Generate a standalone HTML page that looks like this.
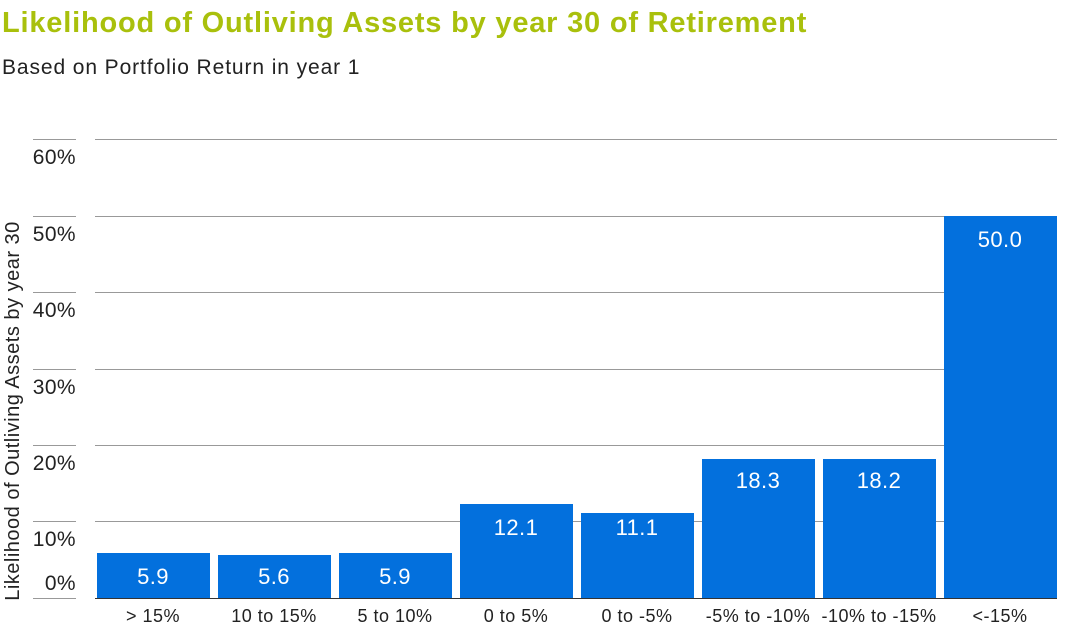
<!DOCTYPE html>
<html><head><meta charset="utf-8"><style>
html,body{margin:0;padding:0;background:#fff;}
svg{display:block;font-family:"Liberation Sans",sans-serif;}
</style></head><body>
<svg width="1069" height="635" viewBox="0 0 1069 635">
<text x="2" y="32" font-size="29" font-weight="bold" fill="#a9c00c" letter-spacing="0.8">Likelihood of Outliving Assets by year 30 of Retirement</text>
<text x="2" y="74" font-size="21" fill="#222" letter-spacing="0.9">Based on Portfolio Return in year 1</text>
<g stroke="#999" stroke-width="1">
<line x1="95" y1="139.5" x2="1057" y2="139.5"/><line x1="33" y1="139.5" x2="76" y2="139.5"/>
<line x1="95" y1="216.5" x2="1057" y2="216.5"/><line x1="33" y1="216.5" x2="76" y2="216.5"/>
<line x1="95" y1="292.5" x2="1057" y2="292.5"/><line x1="33" y1="292.5" x2="76" y2="292.5"/>
<line x1="95" y1="369.5" x2="1057" y2="369.5"/><line x1="33" y1="369.5" x2="76" y2="369.5"/>
<line x1="95" y1="445.5" x2="1057" y2="445.5"/><line x1="33" y1="445.5" x2="76" y2="445.5"/>
<line x1="95" y1="521.5" x2="1057" y2="521.5"/><line x1="33" y1="521.5" x2="76" y2="521.5"/>
</g>
<g font-size="21" fill="#222" text-anchor="end" letter-spacing="0.4">
<text x="76" y="164">60%</text><text x="76" y="241">50%</text><text x="76" y="317">40%</text>
<text x="76" y="394">30%</text><text x="76" y="470">20%</text><text x="76" y="546">10%</text><text x="76" y="590">0%</text>
</g>
<text transform="translate(19,411) rotate(-90)" font-size="20" fill="#222" text-anchor="middle" letter-spacing="0.5">Likelihood of Outliving Assets by year 30</text>
<g fill="#0370dd">
<rect x="97" y="553" width="113" height="45"/>
<rect x="218" y="555" width="113" height="43"/>
<rect x="339" y="553" width="113" height="45"/>
<rect x="460" y="504" width="113" height="94"/>
<rect x="581" y="513" width="113" height="85"/>
<rect x="702" y="459" width="113" height="139"/>
<rect x="823" y="459" width="113" height="139"/>
<rect x="944" y="216" width="113" height="382"/>
</g>
<g font-size="22" fill="#fff" text-anchor="middle" letter-spacing="0.4" font-weight="500">
<text x="153" y="584">5.9</text><text x="274" y="584">5.6</text><text x="395" y="584">5.9</text>
<text x="516" y="535">12.1</text><text x="637" y="535">11.1</text><text x="758" y="488">18.3</text>
<text x="879" y="488">18.2</text><text x="1000" y="247">50.0</text>
</g>
<line x1="95" y1="598.5" x2="1057" y2="598.5" stroke="#333" stroke-width="1"/>
<line x1="33" y1="598.5" x2="76" y2="598.5" stroke="#999" stroke-width="1"/>
<g font-size="18" fill="#222" text-anchor="middle" letter-spacing="0.5">
<text x="153" y="622">&gt; 15%</text><text x="274" y="622">10 to 15%</text><text x="395" y="622">5 to 10%</text>
<text x="516" y="622">0 to 5%</text><text x="637" y="622">0 to -5%</text><text x="758" y="622">-5% to -10%</text>
<text x="879" y="622">-10% to -15%</text><text x="1000" y="622">&lt;-15%</text>
</g>
</svg>
</body></html>
